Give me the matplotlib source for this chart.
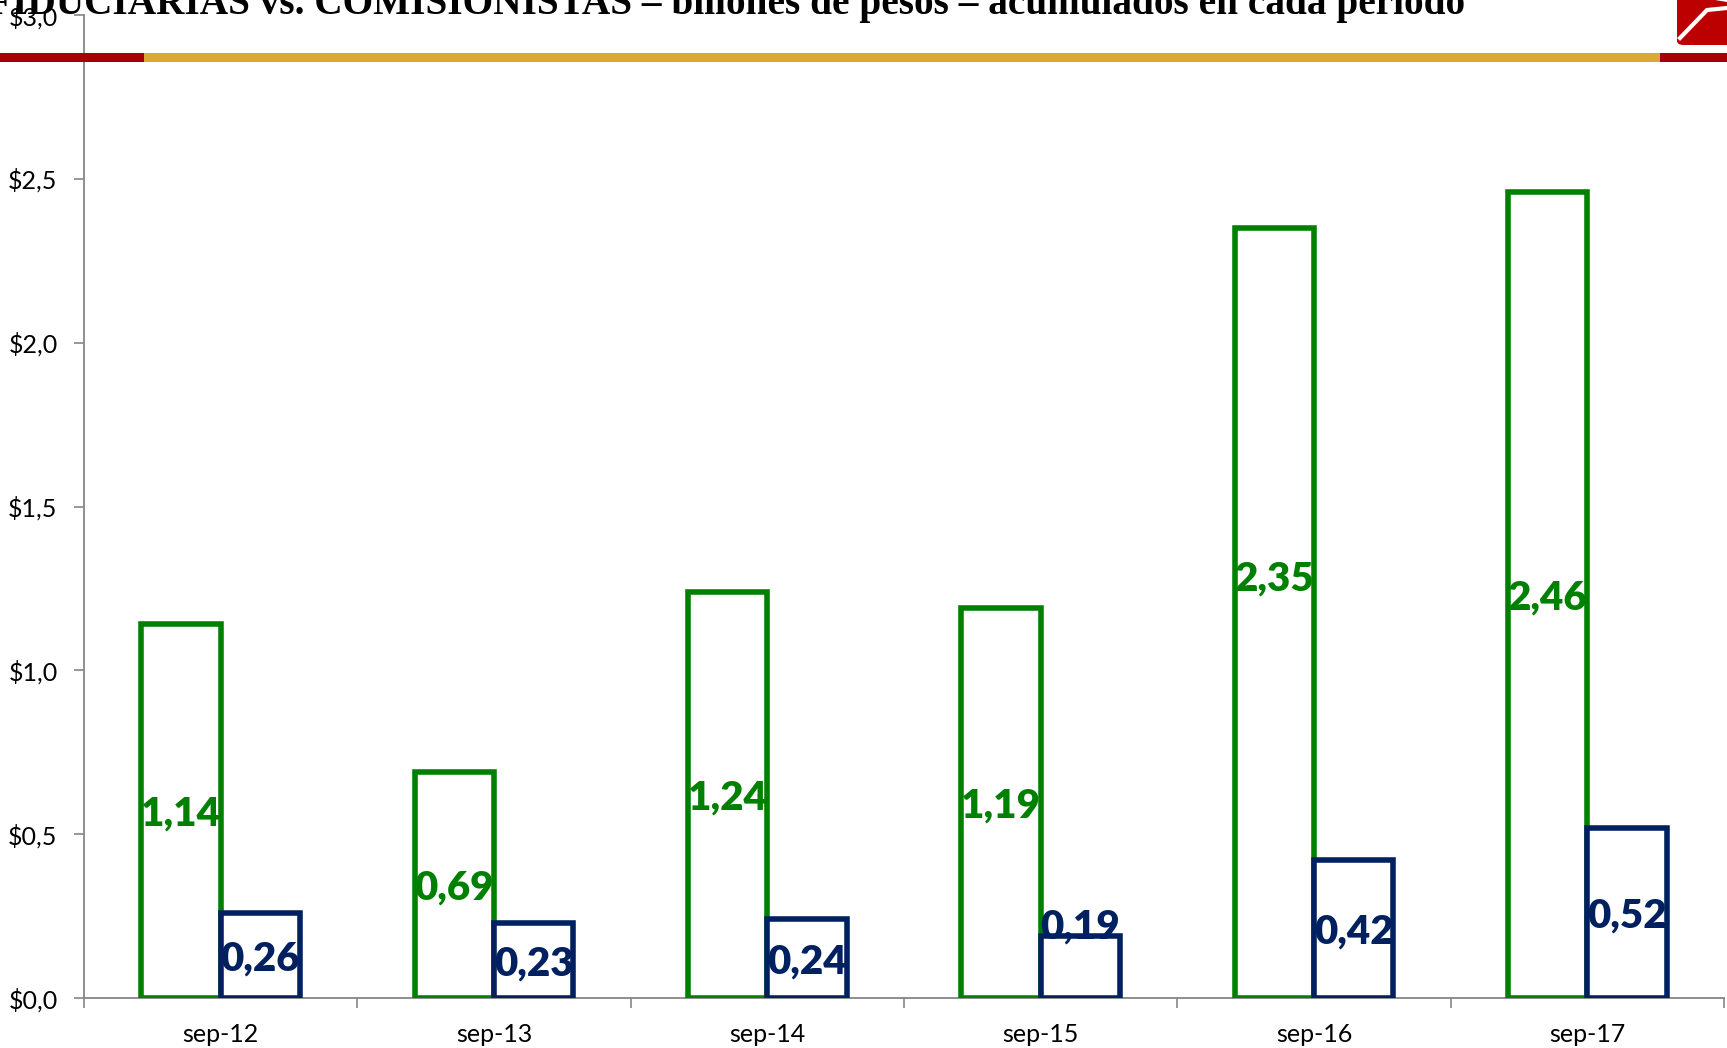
import matplotlib
matplotlib.use("Agg")
import matplotlib.pyplot as plt
import numpy as np
from matplotlib.patches import Rectangle, Polygon, FancyBboxPatch
from matplotlib.lines import Line2D

categories = ["sep-12", "sep-13", "sep-14", "sep-15", "sep-16", "sep-17"]
fiduciarias = [1.14, 0.69, 1.24, 1.19, 2.35, 2.46]
comisionistas = [0.26, 0.23, 0.24, 0.19, 0.42, 0.52]
fid_labels = ["1,14", "0,69", "1,24", "1,19", "2,35", "2,46"]
com_labels = ["0,26", "0,23", "0,24", "0,19", "0,42", "0,52"]
yticks = [0.0, 0.5, 1.0, 1.5, 2.0, 2.5, 3.0]
ytick_labels = ["$0,0", "$0,5", "$1,0", "$1,5", "$2,0", "$2,5", "$3,0"]
title = "FIDUCIARIAS vs. COMISIONISTAS – billones de pesos – acumulados en cada período"

W, H = 1727, 1048
fig = plt.figure(figsize=(W / 100, H / 100), dpi=100)
fig.patch.set_facecolor("white")

GREEN = "#008000"
NAVY = "#002060"
AXIS = "#868686"

ax = fig.add_axes([84 / W, 1 - 998 / H, (1724 - 84) / W, (998 - 15) / H])
x = np.arange(len(categories))
bw = 0.29
b1 = ax.bar(x - bw / 2, fiduciarias, bw, facecolor="white", edgecolor=GREEN,
            linewidth=4.0, zorder=4, joinstyle="miter")
b2 = ax.bar(x + bw / 2, comisionistas, bw, facecolor="white", edgecolor=NAVY,
            linewidth=4.0, zorder=5, joinstyle="miter")

shift_fid = [0, 0, 0, 0, 0.115, 0]
shift_com = [0, 0, 0, 0.13, 0, 0]
lab_font = dict(family=["Lato", "DejaVu Sans"], fontweight="heavy", fontsize=29)
for i in range(len(categories)):
    ax.text(x[i] - bw / 2, fiduciarias[i] / 2 + shift_fid[i] - 0.01, fid_labels[i],
            ha="center", va="center", color=GREEN, zorder=6, **lab_font)
    ax.text(x[i] + bw / 2, comisionistas[i] / 2 + shift_com[i] - 0.01, com_labels[i],
            ha="center", va="center", color=NAVY, zorder=6, **lab_font)

ax.set_xlim(-0.5, len(categories) - 0.5)
ax.set_ylim(0, 3.0)
ax.set_yticks(yticks)
ax.set_yticklabels(ytick_labels, family=["Lato", "DejaVu Sans"], fontsize=18)
ax.set_xticks(x)
ax.set_xticklabels(categories, family=["Lato", "DejaVu Sans"], fontsize=18)
ax.set_xticks(np.arange(-0.5, len(categories)), minor=True)
ax.tick_params(axis="x", which="major", length=0, pad=18)
ax.tick_params(axis="x", which="minor", length=7, width=1.2, color=AXIS, direction="out")
ax.tick_params(axis="y", length=7, width=1.2, color=AXIS, direction="out", pad=12)
for s in ["top", "right"]:
    ax.spines[s].set_visible(False)
for s in ["left", "bottom"]:
    ax.spines[s].set_color(AXIS)
    ax.spines[s].set_linewidth(1.3)
ax.set_facecolor("none")

def px(xp, yp):
    return (xp / W, 1 - yp / H)

# header stripe
fig.patches.append(Rectangle(px(0, 62), 1, 9 / H, transform=fig.transFigure,
                             facecolor="#A50008", edgecolor="none", zorder=1))
fig.patches.append(Rectangle(px(144, 62), (1660 - 144) / W, 9 / H, transform=fig.transFigure,
                             facecolor="#DAA935", edgecolor="none", zorder=2))

# logo
fig.patches.append(FancyBboxPatch(px(1677, 45), 60 / W, 60 / H,
                                  boxstyle="round,pad=0,rounding_size=0.004",
                                  transform=fig.transFigure, facecolor="#BC0000",
                                  edgecolor="none", zorder=3))
fig.lines.append(Line2D([1680 / W, 1707 / W, 1727 / W], [1 - 38 / H, 1 - 10 / H, 1 - 8 / H],
                        transform=fig.transFigure, color="white", linewidth=3, zorder=4))
fig.patches.append(Polygon([px(1715, 0), px(1727, 0), px(1727, 2)], closed=True,
                           transform=fig.transFigure, facecolor="white", edgecolor="none", zorder=4))

# title, fitted to width
t = fig.text(-12 / W, 1 - 14 / H, title, ha="left", va="baseline",
             family=["Liberation Serif", "DejaVu Serif"], fontweight="bold",
             fontsize=26, color="black", zorder=10)
fig.canvas.draw()
bb = t.get_window_extent()
t.set_fontsize(26 * (1477 / bb.width))

fig.savefig("out.png", dpi=100)
